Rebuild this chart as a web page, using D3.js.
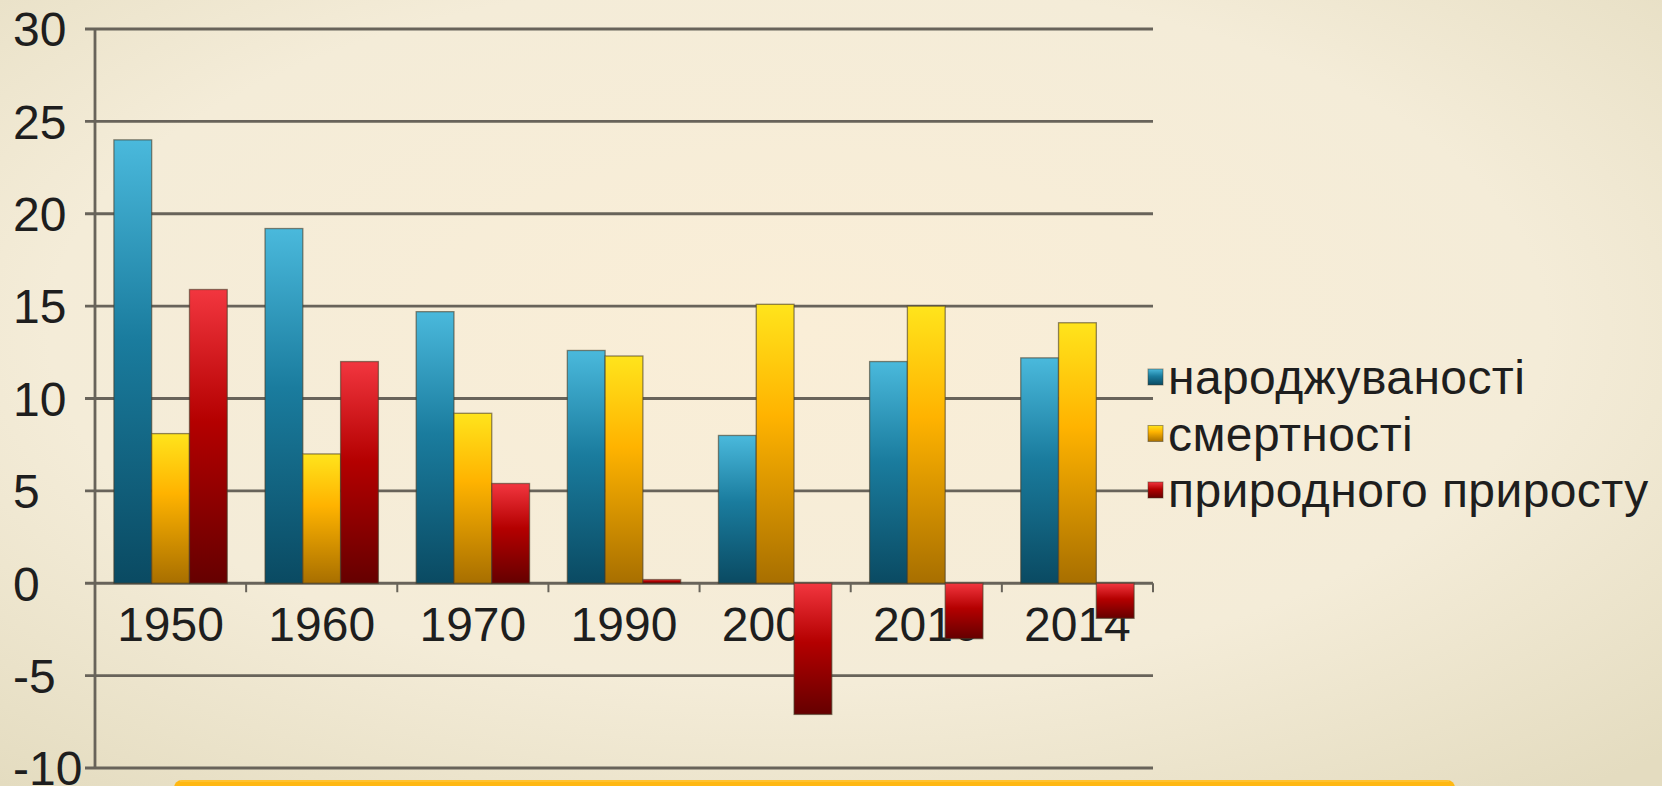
<!DOCTYPE html>
<html>
<head>
<meta charset="utf-8">
<script src="https://cdn.jsdelivr.net/npm/d3@7"></script>
<style>
    html, body { margin: 0; padding: 0; overflow: hidden; }
    body { width: 1662px; height: 786px; }
    text { font-family: "Liberation Sans", Arial, sans-serif; fill: #1e1e1e; }
</style>
</head>
<body>
<div id="chart"></div>
<script>
// chart data
var years = ["1950", "1960", "1970", "1990", "2000", "2010", "2014"];
var seriesNames = ["народжуваності", "смертності", "природного приросту"];
var births = [24.0, 19.2, 14.7, 12.6, 8.0, 12.0, 12.2];
var deaths = [8.1, 7.0, 9.2, 12.3, 15.1, 15.0, 14.1];
var growth = [15.9, 12.0, 5.4, 0.2, -7.1, -3.0, -1.9];
var yTicks = [-10, -5, 0, 5, 10, 15, 20, 25, 30];

(function() {
    var width = 1662,
        height = 786;

    var svg = d3.select("#chart")
        .append("svg")
        .attr("width", width)
        .attr("height", height);

    var defs = svg.append("defs");

    // background, light warm center
    var bg = defs.append("radialGradient")
        .attr("id", "bg")
        .attr("cx", "48%").attr("cy", "42%").attr("r", "75%");
    bg.append("stop").attr("offset", "0%").attr("stop-color", "#faeed7");
    bg.append("stop").attr("offset", "60%").attr("stop-color", "#f4ecd8");
    bg.append("stop").attr("offset", "100%").attr("stop-color", "#e4dcc0");

    // bar gradients, top -> bottom
    var barStops = {
        blue: [["0%", "#4ab9dc"], ["45%", "#1a7c9e"], ["100%", "#0a4a62"]],
        gold: [["0%", "#ffe41c"], ["40%", "#ffb300"], ["100%", "#a86f00"]],
        red: [["0%", "#f2363f"], ["45%", "#b40000"], ["100%", "#650000"]]
    };
    var gradIds = ["blue", "gold", "red"];
    gradIds.forEach(function(k) {
        var g = defs.append("linearGradient")
            .attr("id", "g_" + k)
            .attr("x1", 0).attr("y1", 0).attr("x2", 0).attr("y2", 1);
        barStops[k].forEach(function(s) {
            g.append("stop").attr("offset", s[0]).attr("stop-color", s[1]);
        });
    });

    var shadow = defs.append("filter").attr("id", "soft")
        .attr("x", "-5%").attr("y", "-50%").attr("width", "110%").attr("height", "200%");
    shadow.append("feGaussianBlur").attr("stdDeviation", 0.7);

    svg.append("rect")
        .attr("width", width)
        .attr("height", height)
        .attr("fill", "url(#bg)");

    var x0 = d3.scaleBand()
        .domain(years)
        .range([95, 1153])
        .paddingInner(0)
        .paddingOuter(0);

    var x1 = d3.scaleBand()
        .domain(d3.range(seriesNames.length))
        .range([0, x0.bandwidth()])
        .paddingInner(0)
        .paddingOuter(0.5);

    var y = d3.scaleLinear()
        .domain([-10, 30])
        .range([768, 29]);

    // gridlines with y ticks
    var grid = svg.append("g").attr("filter", "url(#soft)");
    grid.selectAll(".grid")
        .data(yTicks)
        .enter().append("line")
        .attr("class", "grid")
        .attr("x1", 85)
        .attr("x2", 1153)
        .attr("y1", function(d) { return y(d); })
        .attr("y2", function(d) { return y(d); })
        .attr("stroke", "#67645a")
        .attr("stroke-width", 2.8);

    grid.append("line")
        .attr("x1", x0.range()[0])
        .attr("x2", x0.range()[0])
        .attr("y1", y(30))
        .attr("y2", y(-10))
        .attr("stroke", "#67645a")
        .attr("stroke-width", 2.8);

    // category ticks under the zero line
    var bounds = years.map(function(d) { return x0(d); }).concat([x0.range()[1]]);
    grid.selectAll(".xtick")
        .data(bounds)
        .enter().append("line")
        .attr("class", "xtick")
        .attr("x1", function(d) { return d; })
        .attr("x2", function(d) { return d; })
        .attr("y1", y(0))
        .attr("y2", y(0) + 9)
        .attr("stroke", "#67645a")
        .attr("stroke-width", 2);

    // y labels are left aligned
    svg.selectAll(".ylab")
        .data(yTicks)
        .enter().append("text")
        .attr("class", "ylab")
        .attr("x", 13)
        .attr("y", function(d) { return y(d); })
        .attr("dy", "0.36em")
        .style("font-size", "48px")
        .text(function(d) { return d; });

    // x labels go under the bars (bars cover them)
    svg.selectAll(".xlab")
        .data(years)
        .enter().append("text")
        .attr("class", "xlab")
        .attr("x", function(d) { return x0(d) + x0.bandwidth() / 2; })
        .attr("y", 641)
        .attr("text-anchor", "middle")
        .style("font-size", "48px")
        .text(function(d) { return d; });

    var series = [births, deaths, growth];
    var groups = svg.selectAll(".year")
        .data(years)
        .enter().append("g")
        .attr("class", "year")
        .attr("transform", function(d) { return "translate(" + x0(d) + ",0)"; });

    groups.selectAll("rect")
        .data(function(d, i) {
            return series.map(function(s, k) { return { k: k, v: s[i] }; });
        })
        .enter().append("rect")
        .attr("x", function(d) { return x1(d.k); })
        .attr("width", x1.bandwidth())
        .attr("y", function(d) { return Math.min(y(d.v), y(0)); })
        .attr("height", function(d) { return Math.abs(y(d.v) - y(0)); })
        .attr("fill", function(d) { return "url(#g_" + gradIds[d.k] + ")"; })
        .attr("stroke", "rgba(70,60,40,0.6)")
        .attr("stroke-width", 1.3);

    // legend
    var legend = svg.selectAll(".legend")
        .data(seriesNames)
        .enter().append("g")
        .attr("class", "legend")
        .attr("transform", function(d, i) { return "translate(1148," + (377 + i * 56.5) + ")"; });

    legend.append("rect")
        .attr("x", 0)
        .attr("y", -8)
        .attr("width", 15)
        .attr("height", 16)
        .attr("fill", function(d, i) { return "url(#g_" + gradIds[i] + ")"; })
        .attr("stroke", "rgba(70,60,40,0.5)")
        .attr("stroke-width", 1);

    legend.append("text")
        .attr("x", 20)
        .attr("y", 17)
        .style("font-size", "48px")
        .style("letter-spacing", "0.4px")
        .text(function(d) { return d; });

    // orange box at the bottom edge
    svg.append("rect")
        .attr("x", 174)
        .attr("y", 780)
        .attr("width", 1281)
        .attr("height", 30)
        .attr("rx", 8)
        .attr("fill", "#ffb812");
    svg.append("line")
        .attr("x1", 180).attr("x2", 1449)
        .attr("y1", 781).attr("y2", 781)
        .attr("stroke", "#ffcb4d")
        .attr("stroke-width", 1);
})();
</script>
</body>
</html>
